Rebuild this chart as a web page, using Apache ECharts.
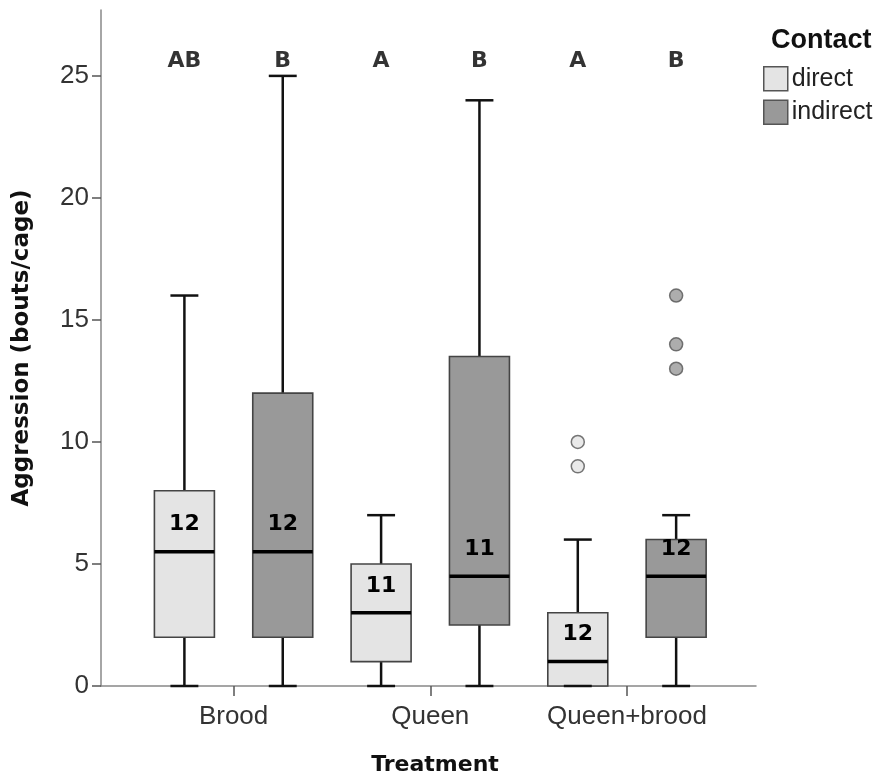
<!DOCTYPE html>
<html><head><meta charset="utf-8">
<script src="https://cdn.jsdelivr.net/npm/echarts@6/dist/echarts.min.js"></script>
<style>html,body{margin:0;padding:0;background:#fff}#c{width:882px;height:781px}</style>
</head><body><div id="c"></div>
<script>
// ---- data ----
const treatments = ['Brood', 'Queen', 'Queen+brood'];
// [min, q1, median, q3, max]
const directStats = [[0, 2, 5.5, 8, 16], [0, 1, 3, 5, 7], [0, 0, 1, 3, 6]];
const indirectStats = [[0, 2, 5.5, 12, 25], [0, 2.5, 4.5, 13.5, 24], [0, 2, 4.5, 6, 7]];
// [treatment index, value]
const directOutliers = [[2, 9], [2, 10]];
const indirectOutliers = [[2, 13], [2, 14], [2, 16]];
const directN = [12, 11, 12];
const indirectN = [12, 11, 12];
const directLetters = ['AB', 'A', 'A'];
const indirectLetters = ['B', 'B', 'B'];
const yTicks = [0, 5, 10, 15, 20, 25];

// ---- layout / style ----
const DIR_OFF = -0.25, IND_OFF = 0.25;
const LETTER_Y = 25.6;
const DIR_FILL = '#e4e4e4', IND_FILL = '#999999', EDGE = '#444444';
const BOLD_FONT = 'DejaVu Sans';

function boxRender(nList, fill) {
  return function (params, api) {
    const x = api.value(0);
    const v = [1, 2, 3, 4, 5].map(d => api.value(d));
    const unit = api.size([1, 0])[0];
    const bw = unit * 0.305, cw = unit * 0.142;
    const cx = api.coord([x, 0])[0];
    const Y = val => api.coord([x, val])[1];
    const yMin = Y(v[0]), yQ1 = Y(v[1]), yMed = Y(v[2]), yQ3 = Y(v[3]), yMax = Y(v[4]);
    const ls = { stroke: '#111', lineWidth: 2.5 };
    const ch = [];
    ch.push({ type: 'line', shape: { x1: cx, y1: yQ3, x2: cx, y2: yMax }, style: ls });
    ch.push({ type: 'line', shape: { x1: cx, y1: yQ1, x2: cx, y2: yMin }, style: ls });
    ch.push({ type: 'rect', shape: { x: cx - bw / 2, y: yQ3, width: bw, height: yQ1 - yQ3 },
      style: { fill: fill, stroke: EDGE, lineWidth: 1.6 } });
    ch.push({ type: 'line', shape: { x1: cx - cw / 2, y1: yMax, x2: cx + cw / 2, y2: yMax }, style: ls });
    ch.push({ type: 'line', shape: { x1: cx - cw / 2, y1: yMin, x2: cx + cw / 2, y2: yMin }, style: ls });
    ch.push({ type: 'line', shape: { x1: cx - bw / 2, y1: yMed, x2: cx + bw / 2, y2: yMed },
      style: { stroke: '#000', lineWidth: 3.5 } });
    ch.push({ type: 'text', x: cx, y: yMed - 27,
      style: { text: String(nList[params.dataIndex]), fill: '#000', font: 'bold 22px "DejaVu Sans"',
        align: 'center', verticalAlign: 'middle' } });
    return { type: 'group', children: ch };
  };
}

const chart = echarts.init(document.getElementById('c'), null, { renderer: 'canvas' });
const option = {
  animation: false,
  backgroundColor: '#fff',
  title: {
    text: 'Contact', left: 766, top: 22,
    textStyle: { fontFamily: 'Liberation Sans', fontSize: 27, fontWeight: 'bold', color: '#111' }
  },
  legend: {
    orient: 'vertical', left: 763, top: 66, padding: 0,
    itemWidth: 24, itemHeight: 24, itemGap: 8, icon: 'rect',
    textStyle: { fontFamily: 'Liberation Sans', fontSize: 25, color: '#222', padding: [0, 0, 0, -1] },
    data: [
      { name: 'direct', itemStyle: { color: DIR_FILL, borderColor: '#555', borderWidth: 1.5 } },
      { name: 'indirect', itemStyle: { color: IND_FILL, borderColor: '#555', borderWidth: 1.5 } }
    ]
  },
  grid: { left: 101, right: 126, top: 10, bottom: 93 },
  xAxis: {
    type: 'value', min: -0.674, max: 2.656,
    name: 'Treatment', nameLocation: 'middle', nameGap: 68,
    nameTextStyle: { fontFamily: BOLD_FONT, fontWeight: 'bold', fontSize: 22, color: '#111', padding: [0, 0, 0, 13] },
    axisLine: { show: true, onZero: false, lineStyle: { color: '#888', width: 1.5 } },
    axisTick: { show: true, length: 10, customValues: [0, 1, 2], lineStyle: { color: '#555', width: 1.5 } },
    axisLabel: {
      customValues: [0, 1, 2], margin: 18,
      formatter: v => treatments[Math.round(v)],
      fontFamily: 'Liberation Sans', fontSize: 26, color: '#333'
    },
    splitLine: { show: false }
  },
  yAxis: {
    type: 'value', min: 0, max: 27.7, interval: 5,
    name: 'Aggression (bouts/cage)', nameLocation: 'middle', nameGap: 67,
    nameTextStyle: { fontFamily: BOLD_FONT, fontWeight: 'bold', fontSize: 23, color: '#111' },
    axisLine: { show: true, onZero: false, lineStyle: { color: '#888', width: 1.5 } },
    axisTick: { show: true, length: 9, customValues: yTicks, lineStyle: { color: '#555', width: 1.5 } },
    axisLabel: { customValues: yTicks, margin: 12, fontFamily: 'Liberation Sans', fontSize: 26, color: '#333' },
    splitLine: { show: false }
  },
  series: [
    {
      name: 'direct', type: 'custom', renderItem: boxRender(directN, DIR_FILL),
      itemStyle: { color: DIR_FILL }, encode: { x: 0, y: [1, 2, 3, 4, 5] },
      data: directStats.map((s, i) => [i + DIR_OFF].concat(s)), z: 2
    },
    {
      name: 'indirect', type: 'custom', renderItem: boxRender(indirectN, IND_FILL),
      itemStyle: { color: IND_FILL }, encode: { x: 0, y: [1, 2, 3, 4, 5] },
      data: indirectStats.map((s, i) => [i + IND_OFF].concat(s)), z: 2
    },
    {
      name: 'direct outliers', type: 'scatter', symbol: 'circle', symbolSize: 13,
      itemStyle: { color: DIR_FILL, borderColor: '#555', borderWidth: 1.5 },
      data: directOutliers.map(o => [o[0] + DIR_OFF, o[1]]), z: 3
    },
    {
      name: 'indirect outliers', type: 'scatter', symbol: 'circle', symbolSize: 13,
      itemStyle: { color: IND_FILL, borderColor: '#555', borderWidth: 1.5 },
      data: indirectOutliers.map(o => [o[0] + IND_OFF, o[1]]), z: 3
    },
    {
      name: 'letters', type: 'scatter', symbolSize: 0, silent: true,
      data: directLetters.map((l, i) => [i + DIR_OFF, LETTER_Y, l])
        .concat(indirectLetters.map((l, i) => [i + IND_OFF, LETTER_Y, l])),
      label: {
        show: true, position: 'inside', formatter: p => p.value[2],
        fontFamily: BOLD_FONT, fontWeight: 'bold', fontSize: 22, color: '#000'
      }
    }
  ]
};
chart.setOption(option);
</script></body></html>
